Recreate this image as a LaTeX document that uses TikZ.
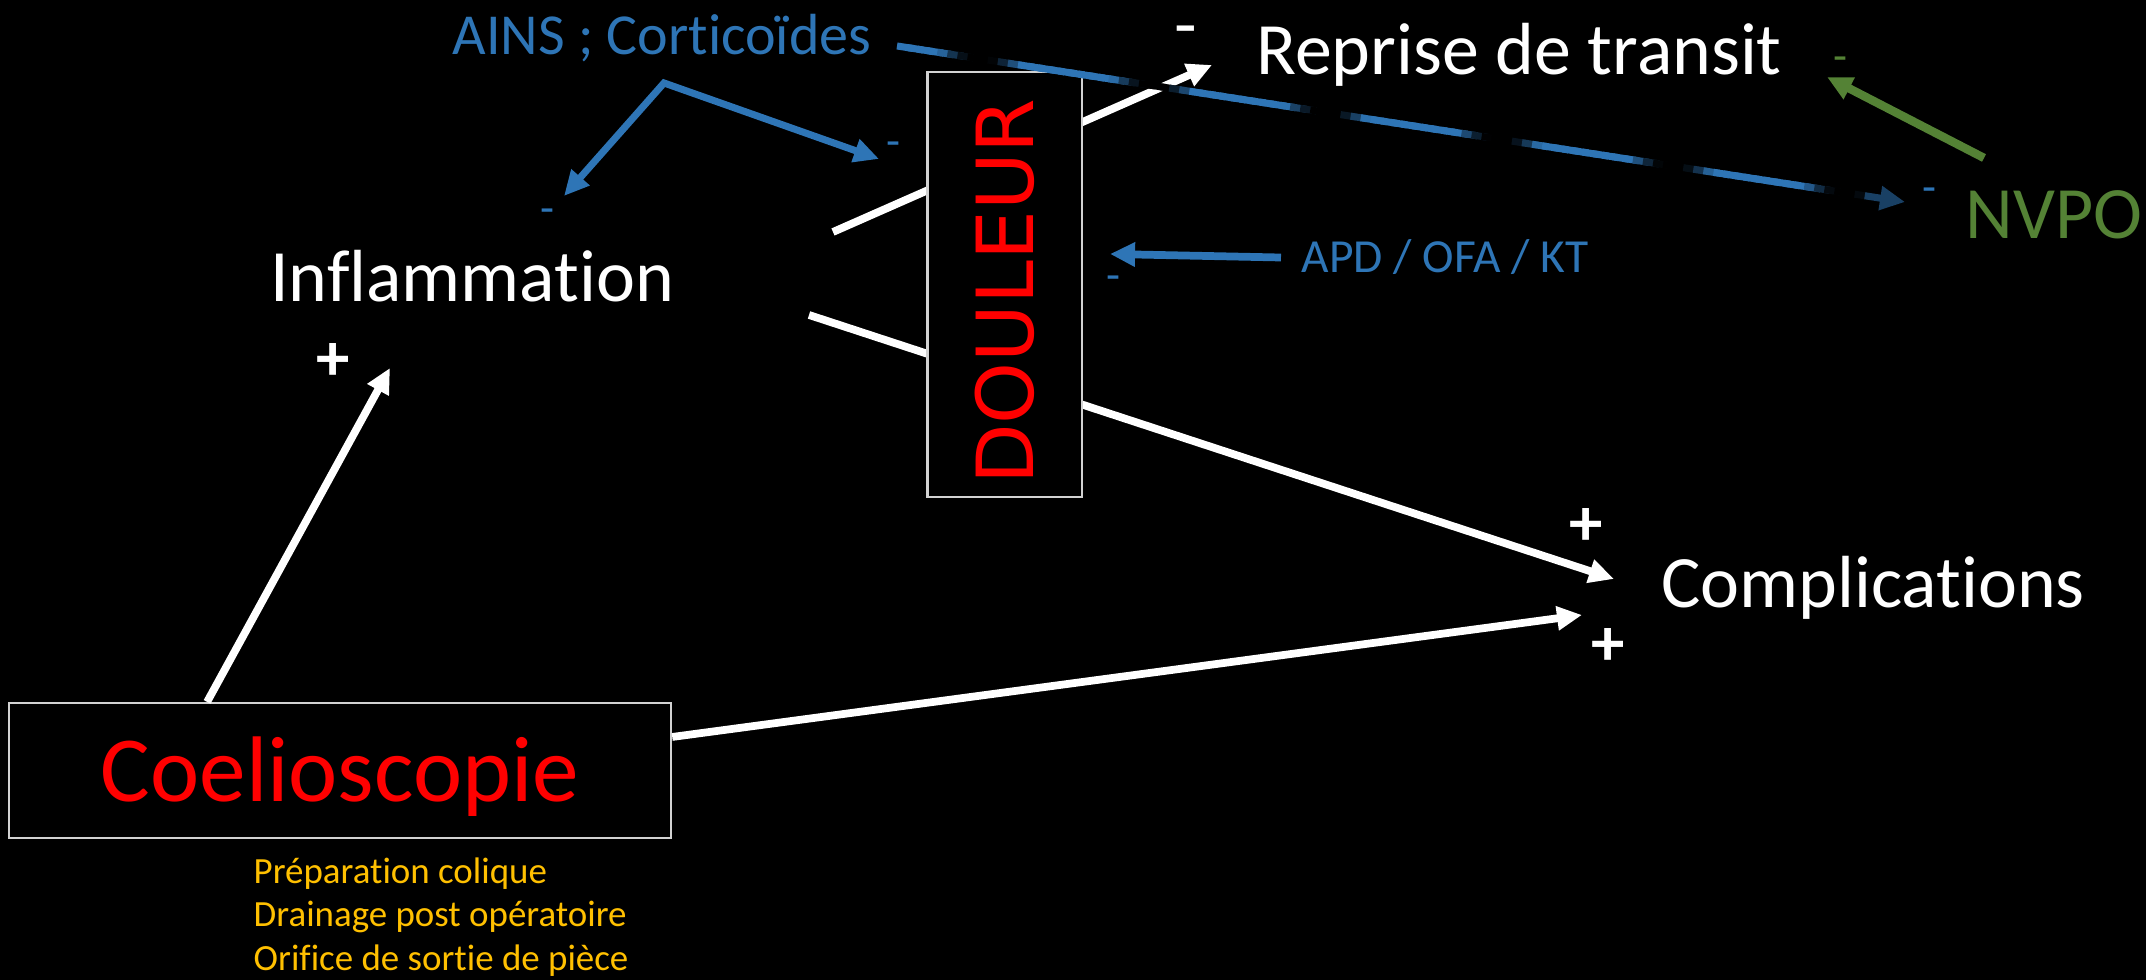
\documentclass[tikz,border=0pt]{standalone}
\usepackage{fontspec}
\setmainfont{Carlito}[Ligatures=NoCommon]
\newfontfamily\douleurfont{DejaVu Sans}
\usepackage{xcolor}
\usepackage{tikz}
\usetikzlibrary{shapes,arrows.meta,positioning,calc,backgrounds}

\definecolor{ainsblue}{RGB}{46,117,182}
\definecolor{nvpogreen}{RGB}{84,130,53}
\definecolor{prepyellow}{RGB}{255,192,0}
\definecolor{boxline}{RGB}{210,210,210}

\begin{document}
\begin{tikzpicture}[x=0.01cm, y=0.01cm,
    txt/.style={inner sep=0pt, anchor=base, text=white, font=\fontsize{21pt}{25pt}\selectfont},
    sgn/.style={inner sep=0pt, font=\fontsize{13pt}{15pt}\selectfont},
    plus/.style={inner sep=0pt, text=white, font=\fontsize{19pt}{23pt}\selectfont\bfseries},
    tip/.style={-{Triangle[length=2.5mm,width=2.3mm]}},
    warrow/.style={tip, line width=2.2pt, white},
    barrow/.style={tip, line width=2pt, ainsblue}]

    \useasboundingbox (0,0) rectangle (2146,980);
    \begin{scope}[on background layer]
        \fill[black] (0,0) rectangle (2146,980);
    \end{scope}

    % Nodes
    \node (ains) [txt, text=ainsblue, font=\fontsize{16.5pt}{20pt}\selectfont] at (662,925) {AINS ; Corticoïdes};
    \node (reprise) [txt] at (1519,905) {Reprise de transit};
    \node (inflam) [txt] at (472,678) {Inflammation};
    \node (compl) [txt] at (1873,372) {Complications};
    \node (nvpo) [txt, anchor=base west, text=nvpogreen] at (1965,741) {NVPO};
    \node (apd) [txt, text=ainsblue, font=\fontsize{13.5pt}{16pt}\selectfont] at (1445,707) {APD / OFA / KT};

    \node (douleur) [rectangle, draw=boxline, fill=black, line width=0.6pt, rotate=90, minimum width=4.25cm, minimum height=1.54cm, text=red, text height=16.3pt, text depth=0pt, font=\douleurfont\fontsize{22.4pt}{27pt}\selectfont] at (1004.5,695.5) {DOULEUR\hspace*{0.14cm}};
    \node (coelio) [rectangle, draw=boxline, fill=black, line width=0.6pt, minimum width=6.62cm, minimum height=1.35cm, text=red, text height=23.9pt, text depth=6pt, font=\fontsize{26.5pt}{30pt}\selectfont] at (340,209.5) {Coelioscopie};
    \node (prep) [anchor=north west, inner sep=0pt, align=left, text=prepyellow, font=\fontsize{10.5pt}{12.4pt}\selectfont] at (253,123) {Préparation colique\\Drainage post opératoire\\Orifice de sortie de pièce};

    % Signs
    \node (minusreprise) [sgn, text=white, font=\fontsize{21pt}{25pt}\selectfont] at (1186,942) {-};
    \node (minusnvpo) [sgn, text=nvpogreen] at (1840,916) {-};
    \node (minusgrad) [sgn, text=ainsblue] at (1929,785) {-};
    \node (minusinfl) [sgn, text=ainsblue] at (547,764) {-};
    \node (minusdoul) [sgn, text=ainsblue] at (893,831) {-};
    \node (minusapd) [sgn, text=ainsblue] at (1113,697) {-};
    \node (plusinfl) [plus] at (333,618) {+};
    \node (pluscompa) [plus] at (1586,453) {+};
    \node (pluscompb) [plus] at (1608,333) {+};

    % Free ends
    \coordinate (inflin) at (390,612);
    \coordinate (complina) at (1614,401);
    \coordinate (complinb) at (1582,365);
    \coordinate (reprisein) at (1212,915);
    \coordinate (inflouta) at (809,665);
    \coordinate (infloutb) at (833,748);
    \coordinate (vtop) at (664,897);
    \coordinate (vleft) at (564,784);
    \coordinate (vright) at (879,821);
    \coordinate (apdtip) at (1110,726);
    \coordinate (nvpostart) at (1984,822);
    \coordinate (nvpotip) at (1827,903);
    \coordinate (gradstart) at (897,934);
    \coordinate (gradend) at (1905,778);

    % Edges
    \draw[warrow] ($(coelio.north west)!0.3!(coelio.north east)$) -- (inflin);
    \draw[warrow] ([yshift=0.335cm]coelio.east) -- (complinb);
    \begin{scope}[on background layer]
        \draw[warrow] (inflouta) -- (complina);
        \draw[warrow] (infloutb) -- (reprisein);
    \end{scope}

    \draw[barrow, {Triangle[length=2.5mm,width=2.3mm]}-{Triangle[length=2.5mm,width=2.3mm]}] (vleft) -- (vtop) -- (vright);
    \draw[barrow, line width=2.2pt] ([xshift=-2mm]apd.west) -- (apdtip);
    \draw[tip, line width=2.4pt, nvpogreen] (nvpostart) -- (nvpotip);

    % AINS -> NVPO, fading line
    \foreach \i in {0,...,95} {
        \pgfmathsetmacro{\ta}{\i/100}
        \pgfmathsetmacro{\tb}{(\i+1.6)/100}
        \pgfmathsetmacro{\bright}{max(0,min(100,110-120*cos(360*(\ta+0.005-0.082)/0.1716)))}
        \draw[line width=2pt, ainsblue!\bright!black] ($(gradstart)!\ta!(gradend)$) -- ($(gradstart)!\tb!(gradend)$);
    }
    \draw[tip, line width=2pt, ainsblue!55!black] ($(gradstart)!0.96!(gradend)$) -- (gradend);
\end{tikzpicture}
\end{document}
